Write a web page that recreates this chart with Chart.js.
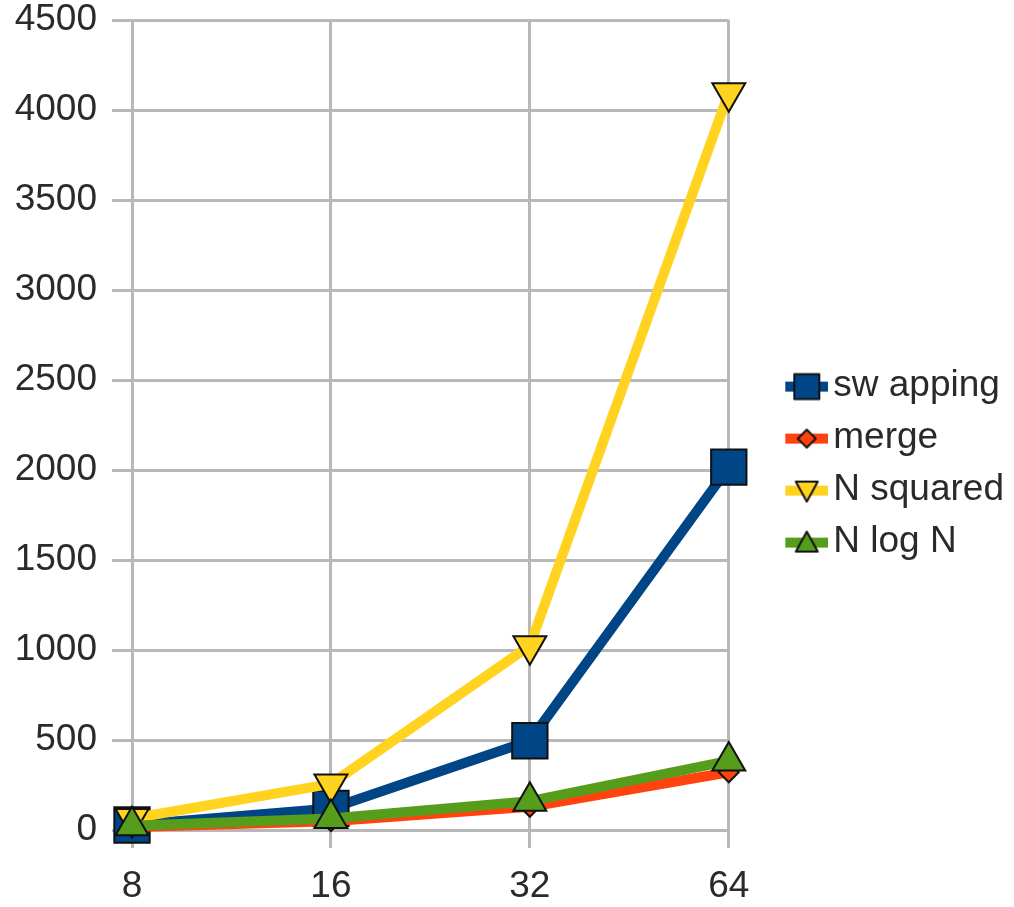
<!DOCTYPE html>
<html>
<head>
<meta charset="utf-8">
<script src="https://cdn.jsdelivr.net/npm/chart.js@4"></script>
<style>
  html, body { margin: 0; background: #fff; }
</style>
</head>
<body>
<canvas id="chart" width="1014" height="907"></canvas>
<script>
// Sorting cost chart: four series over N = 8..64.

const labels = ['8', '16', '32', '64'];
const swapping = [28, 120, 496, 2016];
const merge = [17, 49, 129, 321];
const nSquared = [64, 256, 1024, 4096];
const nLogN = [24, 64, 160, 384];
const seriesNames = ['sw apping', 'merge', 'N squared', 'N log N'];
const colors = ['#004586', '#ff420e', '#ffd320', '#579d1c'];

const gridColor = '#b8b8b8';
const textColor = '#2a2a2a';
const fontSize = 37;
const legendBox = 71;   // room reserved for the legend icon
Chart.defaults.font.family = '"Liberation Sans", Arial, sans-serif';

// Legend icon: a short thick line with the series marker on top.
// Canvas is wider than the box so the icon sits right next to the text.
function legendIcon(i) {
  const W = legendBox + 27, H = 34;
  const c = document.createElement('canvas');
  c.width = W; c.height = H;
  const g = c.getContext('2d');
  const cx = W - 21.5, cy = H / 2 + 1;
  g.fillStyle = colors[i];
  g.fillRect(W - 43, cy - 5, 43, 10);
  g.strokeStyle = '#111';
  g.lineWidth = 2;
  g.lineJoin = 'round';
  g.beginPath();
  if (i === 0) {
    g.rect(cx - 12.5, cy - 12.5, 25, 25);
  } else if (i === 1) {
    g.moveTo(cx, cy - 9); g.lineTo(cx + 9, cy); g.lineTo(cx, cy + 9); g.lineTo(cx - 9, cy); g.closePath();
  } else if (i === 2) {
    g.moveTo(cx - 11, cy - 9); g.lineTo(cx + 11, cy - 9); g.lineTo(cx, cy + 11); g.closePath();
  } else {
    g.moveTo(cx - 11, cy + 9); g.lineTo(cx + 11, cy + 9); g.lineTo(cx, cy - 11); g.closePath();
  }
  g.fill();
  g.stroke();
  return c;
}
const icons = seriesNames.map((_, i) => legendIcon(i));

function series(i, data, style, radius, rotation, order) {
  return {
    label: seriesNames[i],
    data,
    borderColor: colors[i],
    backgroundColor: colors[i],
    borderWidth: 10,
    borderJoinStyle: 'round',
    tension: 0,
    pointStyle: style,
    pointRadius: radius,
    pointHoverRadius: radius,
    pointRotation: rotation,
    pointBackgroundColor: colors[i],
    pointBorderColor: '#111',
    pointBorderWidth: 2,
    clip: false,
    order,
  };
}

new Chart(document.getElementById('chart'), {
  type: 'line',
  data: {
    labels,
    datasets: [
      series(0, swapping, 'rect', 25, 0, 4),
      series(1, merge, 'rectRot', 10, 0, 3),
      series(2, nSquared, 'triangle', 19, 180, 2),
      series(3, nLogN, 'triangle', 19, 0, 1),
    ],
  },
  options: {
    responsive: false,
    animation: false,
    layout: { padding: 0, autoPadding: false },
    scales: {
      x: {
        offset: false,
        grid: { color: gridColor, lineWidth: 3, tickLength: 18 },
        border: { color: gridColor, width: 3 },
        ticks: { color: textColor, font: { size: fontSize }, padding: 17 },
        afterFit: s => { s.height = 77; },
      },
      y: {
        min: 0,
        max: 4500,
        grid: { color: gridColor, lineWidth: 3, tickLength: 20 },
        border: { color: gridColor, width: 3 },
        ticks: { stepSize: 500, color: textColor, font: { size: fontSize }, padding: 15, callback: v => String(v) },
        afterFit: s => { s.width = 132; s.paddingTop = 20; },
      },
    },
    plugins: {
      tooltip: { enabled: false },
      legend: {
        position: 'right',
        maxWidth: 400,
        title: { display: true, text: '', padding: { top: 19, bottom: 0 }, font: { size: 1 } },
        labels: {
          usePointStyle: true,
          pointStyleWidth: legendBox,
          padding: 15,
          color: textColor,
          font: { size: fontSize },
          generateLabels: () => seriesNames.map((name, i) => ({
            text: name,
            pointStyle: icons[i],
            rotation: 0,
            fillStyle: colors[i],
            strokeStyle: colors[i],
            lineWidth: 0,
            hidden: false,
            datasetIndex: i,
            fontColor: textColor,
          })),
        },
      },
    },
  },
});
</script>
</body>
</html>
